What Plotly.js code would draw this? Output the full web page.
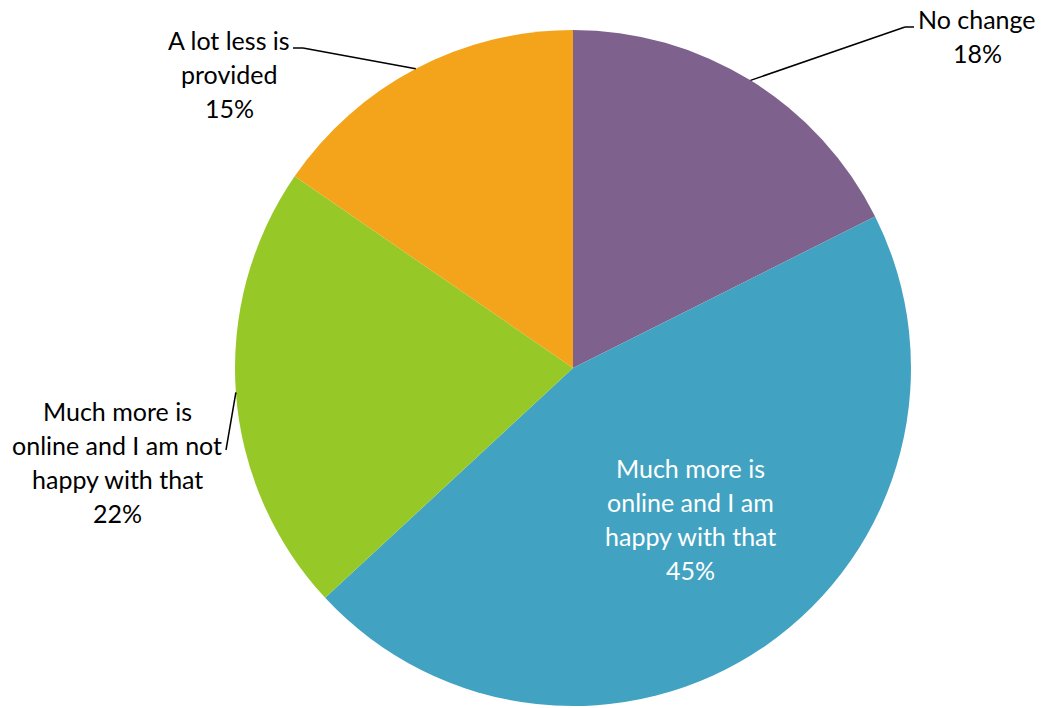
<!DOCTYPE html>
<html>
<head>
<meta charset="utf-8">
<script src="https://cdn.plot.ly/plotly-3.0.1.min.js"></script>
<style>html,body{margin:0;padding:0;background:#fff;}#chart{width:1041px;height:708px;}</style>
</head>
<body>
<div id="chart"></div>
<script>
// Data
const categories = ["No change", "Much more is online and I am happy with that", "Much more is online and I am not happy with that", "A lot less is provided"];
const values = [17.6, 45.5, 21.5, 15.4];
const labelLines = [
  ["No change", "18%"],
  ["Much more is", "online and I am", "happy with that", "45%"],
  ["Much more is", "online and I am not", "happy with that", "22%"],
  ["A lot less is", "provided", "15%"]
];
const colors = ["#7E618D", "#41A3C1", "#96C927", "#F4A41B"];

// Layout constants (pixels)
const W = 1041, H = 708;
const CX = 573, CY = 368, R = 338;
const FONT = "Lato, 'Open Sans', sans-serif";
const FS = 25;
const LINE_H = 34;
// label block centers and leader elbow points (pixels)
const labelPos = [
  {x: 977, y: 36, elbow: [[905, 27], [914, 27]], color: "#000"},
  {x: 690, y: 519, elbow: null, color: "#fff"},
  {x: 117, y: 462, elbow: [[226, 450]], color: "#000"},
  {x: 229, y: 74, elbow: [[303, 48], [293, 48]], color: "#000"}
];

const px = x => x / W;
const py = y => 1 - y / H;

const total = values.reduce((a, b) => a + b, 0);
const annotations = [];
const shapes = [];
let cum = 0;
values.forEach((v, i) => {
  const mid = (cum + v / 2) / total * 2 * Math.PI;
  cum += v;
  const lp = labelPos[i];
  const lines = labelLines[i];
  const top = lp.y - (lines.length - 1) * LINE_H / 2;
  lines.forEach((t, k) => {
    annotations.push({
      xref: "paper", yref: "paper", x: px(lp.x), y: py(top + k * LINE_H),
      xanchor: "center", yanchor: "middle", showarrow: false, text: t,
      font: {family: FONT, size: FS, color: lp.color}
    });
  });
  if (lp.elbow) {
    let sx = CX + R * Math.sin(mid), sy = CY - R * Math.cos(mid);
    const pts = [[sx, sy]].concat(lp.elbow);
    for (let k = 0; k < pts.length - 1; k++) {
      shapes.push({type: "line", xref: "paper", yref: "paper",
        x0: px(pts[k][0]), y0: py(pts[k][1]), x1: px(pts[k + 1][0]), y1: py(pts[k + 1][1]),
        line: {color: "#000", width: 1.5}});
    }
  }
});

const trace = {
  type: "pie",
  labels: categories,
  values: values,
  sort: false,
  direction: "clockwise",
  rotation: 0,
  marker: {colors: colors, line: {width: 0}},
  textinfo: "none",
  hoverinfo: "label+percent",
  showlegend: false,
  domain: {x: [px(CX - R), px(CX + R)], y: [py(CY + R), py(CY - R)]}
};

Plotly.newPlot("chart", [trace], {
  width: W, height: H,
  margin: {l: 0, r: 0, t: 0, b: 0},
  paper_bgcolor: "#fff",
  showlegend: false,
  annotations: annotations,
  shapes: shapes
}, {displayModeBar: false, staticPlot: true});
</script>
</body>
</html>
